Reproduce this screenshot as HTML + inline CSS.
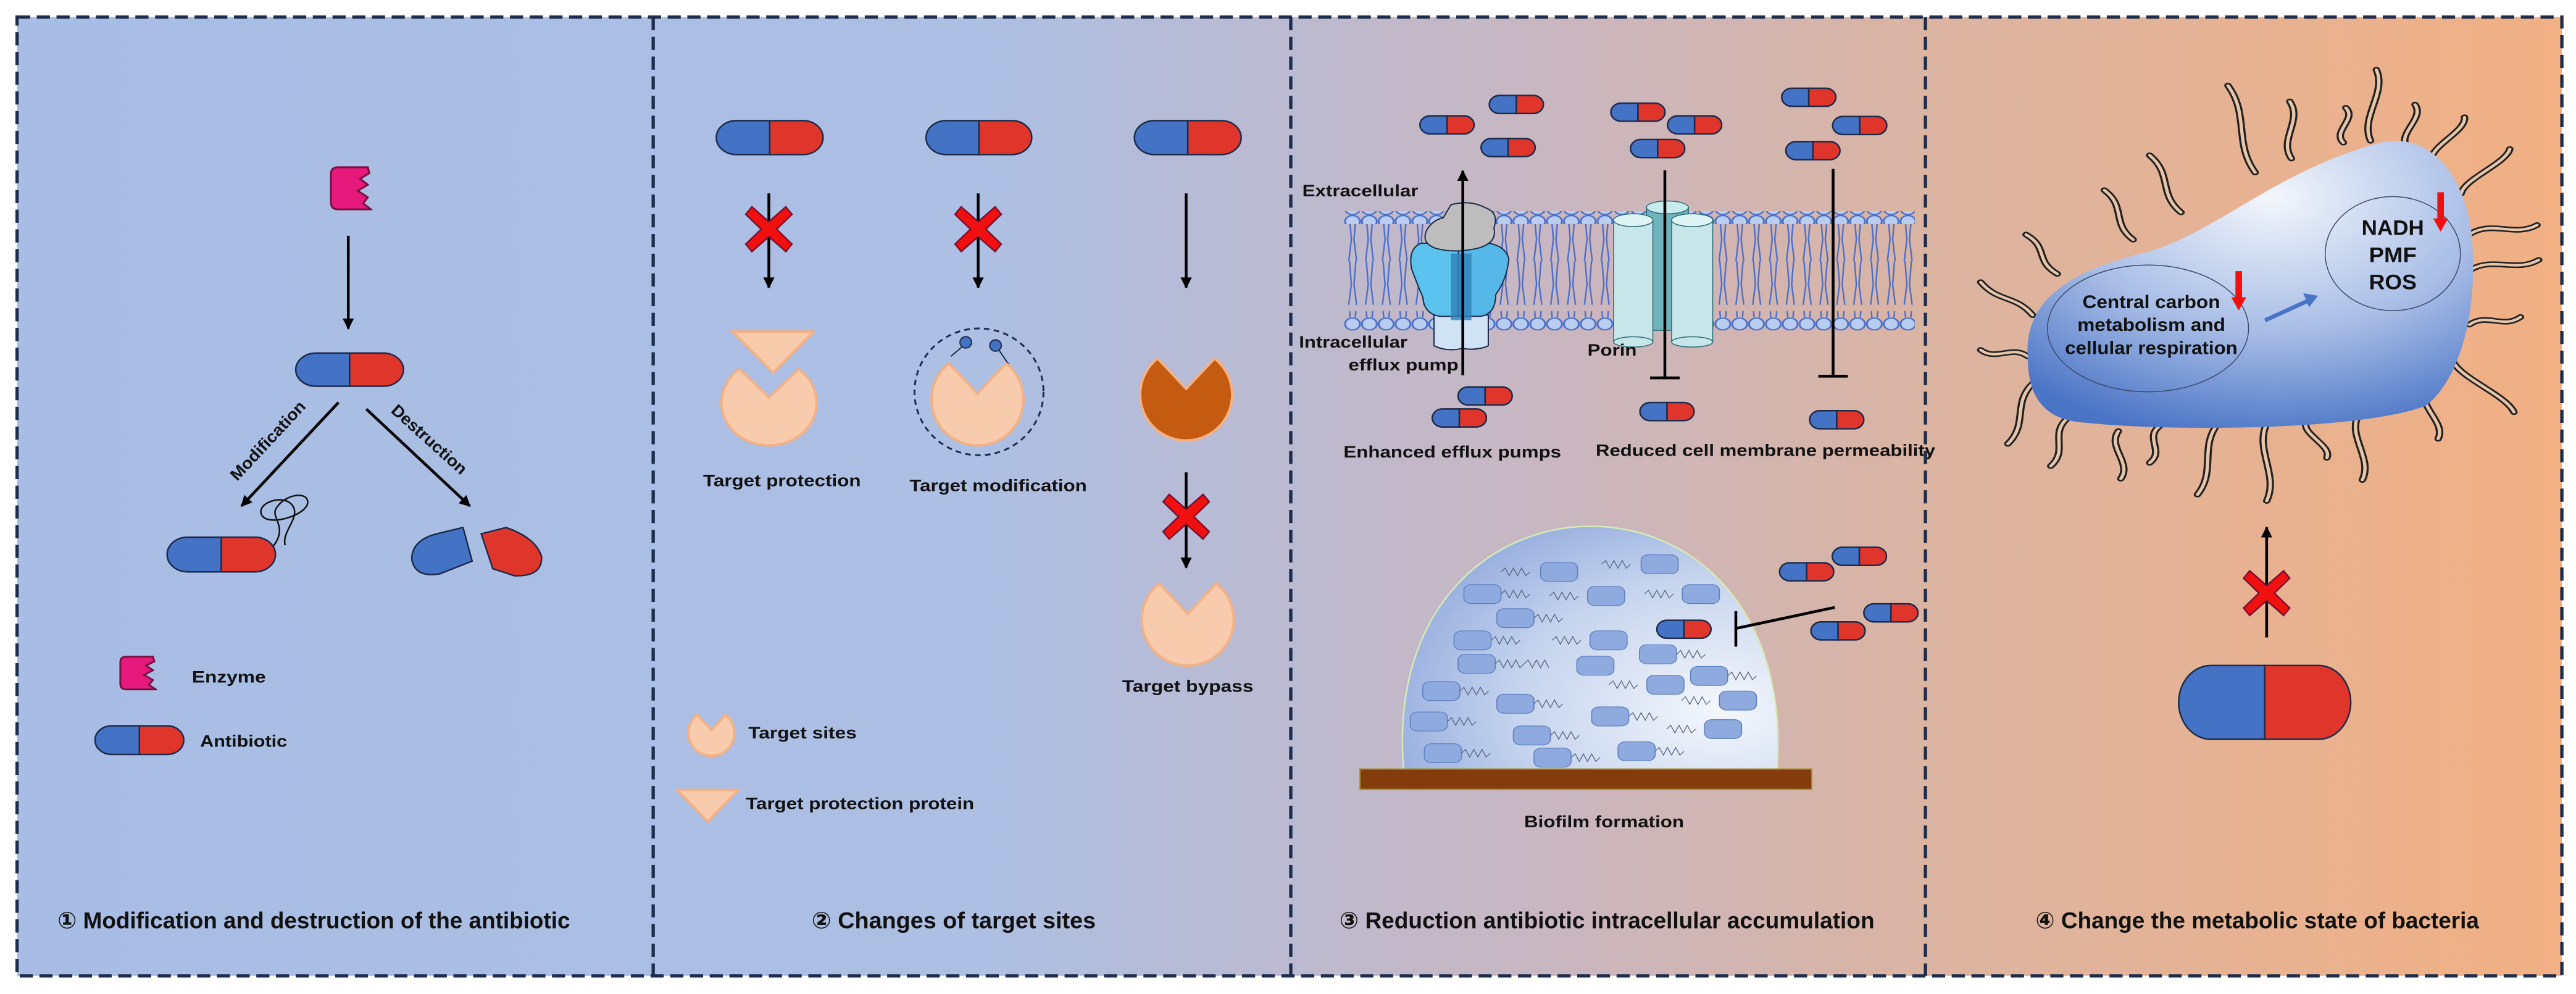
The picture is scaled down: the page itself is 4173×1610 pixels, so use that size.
<!DOCTYPE html>
<html><head><meta charset="utf-8"><style>
html,body{margin:0;padding:0;background:#fff}
svg{display:block}
text{font-family:"Liberation Sans","DejaVu Sans","Noto Sans CJK SC",sans-serif;font-weight:bold;fill:#111}
</style></head><body>
<svg width="4173" height="1610" viewBox="0 0 1568 605" preserveAspectRatio="none" xmlns="http://www.w3.org/2000/svg">
<defs>
<linearGradient id="bg" x1="0" x2="1" y1="0" y2="0">
<stop offset="0" stop-color="#a8bde5"/><stop offset="0.38" stop-color="#adbfe3"/><stop offset="0.5" stop-color="#bcbad0"/><stop offset="0.62" stop-color="#cbb6bd"/><stop offset="0.75" stop-color="#dbb4a2"/><stop offset="1" stop-color="#f2b083"/>
</linearGradient>
<radialGradient id="cell" cx="0.55" cy="0.2" r="0.85"><stop offset="0" stop-color="#f3f6fc"/><stop offset="0.55" stop-color="#a8bde6"/><stop offset="1" stop-color="#4a74c6"/></radialGradient>
<radialGradient id="dome" cx="0.85" cy="0.75" r="0.9"><stop offset="0" stop-color="#f4f7fc"/><stop offset="0.6" stop-color="#c6d4ee"/><stop offset="1" stop-color="#97afdf"/></radialGradient>
<symbol id="pill" viewBox="0 0 66 24" preserveAspectRatio="none">
<path d="M33,1 H13 A12,11 0 0 0 13,23 H33 Z" fill="#4472c4" stroke="#1c2b4a" stroke-width="2.5" vector-effect="non-scaling-stroke"/>
<path d="M33,1 H53 A12,11 0 0 1 53,23 H33 Z" fill="#e0352b" stroke="#1c2b4a" stroke-width="2.5" vector-effect="non-scaling-stroke"/>
</symbol>
<symbol id="pac" viewBox="-1.1 -1.1 2.2 2.2" preserveAspectRatio="none">
<path d="M0.62,-0.78 A1,1 0 1 1 -0.62,-0.78 L0,-0.12 Z" fill="#f8cbad" stroke="#f4b183" stroke-width="4" vector-effect="non-scaling-stroke"/>
</symbol>
<symbol id="pacb" viewBox="-1.1 -1.1 2.2 2.2" preserveAspectRatio="none">
<path d="M0.62,-0.78 A1,1 0 1 1 -0.62,-0.78 L0,-0.12 Z" fill="#c55a11" stroke="#f4b183" stroke-width="4" vector-effect="non-scaling-stroke"/>
</symbol>
<symbol id="enz" viewBox="395 256 57 83" preserveAspectRatio="none">
<path d="M407,262 H446 L448,272 L436,281 L446,291 L433,301 L446,312 L440,322 L450,332 H407 Q398,332 398,320 V274 Q398,262 407,262 Z" fill="#e6197d" stroke="#7a1040" stroke-width="3" vector-effect="non-scaling-stroke"/>
</symbol>
<symbol id="xx" viewBox="-16 -16 32 32" preserveAspectRatio="none">
<polygon points="-11,-15 0,-5 11,-15 15,-10 5,0 15,10 11,15 0,5 -11,15 -15,10 -5,0 -15,-10" fill="#f01010" stroke="#7a1030" stroke-width="2.5" vector-effect="non-scaling-stroke"/>
</symbol>
<marker id="ah" viewBox="0 0 10 10" refX="9" refY="5" markerWidth="5" markerHeight="4" orient="auto-start-reverse" markerUnits="strokeWidth"><path d="M0,0 L10,5 L0,10 Z" fill="#000"/></marker>
<pattern id="heads" patternUnits="userSpaceOnUse" width="45" height="50"><ellipse cx="22" cy="25" rx="20" ry="23" fill="#b9cdf0" stroke="#4a6fc9" stroke-width="5"/></pattern>
<pattern id="tails" patternUnits="userSpaceOnUse" width="45" height="365"><path d="M14,0 L19,90 L12,170 M31,0 L26,90 L33,170 M14,195 L19,280 L12,365 M31,195 L26,280 L33,365" fill="none" stroke="#4a6fc9" stroke-width="4"/></pattern>
</defs>

<rect x="0" y="0" width="1568" height="605" fill="#fff"/>
<rect x="10.4" y="10.4" width="1549" height="583.6" fill="url(#bg)"/>

<g transform="scale(0.5033,0.3859)">
<path d="M330,862 C350,830 325,815 335,800 C345,780 370,775 372,790 C375,810 330,830 318,815 C305,795 345,775 355,800 C362,818 340,840 345,860" fill="none" stroke="#111" stroke-width="2.5" vector-effect="non-scaling-stroke"/>
<path d="M560,832 L571,885 L532,905 Q502,912 498,882 Q498,852 528,842 Z" fill="#4472c4" stroke="#1c2b4a" stroke-width="2.5" vector-effect="non-scaling-stroke"/>
<path d="M582,842 L612,832 Q648,848 655,878 Q656,910 622,908 L596,897 Z" fill="#e0352b" stroke="#1c2b4a" stroke-width="2.5" vector-effect="non-scaling-stroke"/>
<ellipse cx="1184" cy="618" rx="78" ry="100" fill="none" stroke="#1f2d4d" stroke-width="3" stroke-dasharray="9 7" vector-effect="non-scaling-stroke"/>
<line x1="1150" y1="562" x2="1168" y2="542" stroke="#1c2b4a" stroke-width="2" vector-effect="non-scaling-stroke"/>
<line x1="1220" y1="575" x2="1206" y2="548" stroke="#1c2b4a" stroke-width="2" vector-effect="non-scaling-stroke"/>
<ellipse cx="1168" cy="540" rx="7" ry="9" fill="#4472c4" stroke="#1c2b4a" stroke-width="2" vector-effect="non-scaling-stroke"/>
<ellipse cx="1204" cy="545" rx="7" ry="9" fill="#4472c4" stroke="#1c2b4a" stroke-width="2" vector-effect="non-scaling-stroke"/>
<polygon points="886,523 984,523 935,588" fill="#f8cbad" stroke="#f4b183" stroke-width="4" vector-effect="non-scaling-stroke"/>
<polygon points="819,1246 893,1246 856,1296" fill="#f8cbad" stroke="#f4b183" stroke-width="4" vector-effect="non-scaling-stroke"/>
</g>

<use href="#enz" x="200" y="99.6" width="26.7" height="30.4"/>
<use href="#enz" x="72" y="398" width="23.6" height="23.6"/>
<g stroke="#000" stroke-width="1.7" fill="none">
<line x1="212" y1="143.5" x2="212" y2="200" marker-end="url(#ah)"/>
<line x1="206" y1="245" x2="147" y2="308" marker-end="url(#ah)"/>
<line x1="223" y1="249" x2="286" y2="308" marker-end="url(#ah)"/>
<line x1="468" y1="117.7" x2="468" y2="175" marker-end="url(#ah)"/>
<line x1="595.4" y1="117.7" x2="595.4" y2="175" marker-end="url(#ah)"/>
<line x1="722" y1="117.7" x2="722" y2="175" marker-end="url(#ah)"/>
<line x1="722" y1="287.5" x2="722" y2="345.5" marker-end="url(#ah)"/>
</g>
<use href="#pill" x="179" y="214" width="67.6" height="22"/>
<use href="#pill" x="100.7" y="326" width="68" height="23"/>
<use href="#pill" x="57" y="441" width="55.7" height="19"/>
<text transform="translate(165.5,270.5) rotate(-47)" font-size="10" text-anchor="middle" textLength="62" lengthAdjust="spacingAndGlyphs">Modification</text>
<text transform="translate(259,270) rotate(42)" font-size="10" text-anchor="middle" textLength="58" lengthAdjust="spacingAndGlyphs">Destruction</text>
<text x="116.8" y="415.5" font-size="10" textLength="45" lengthAdjust="spacingAndGlyphs">Enzyme</text>
<text x="121.8" y="454.5" font-size="10" textLength="53" lengthAdjust="spacingAndGlyphs">Antibiotic</text>
<text x="35" y="565" font-size="14" textLength="312" lengthAdjust="spacingAndGlyphs">① Modification and destruction of the antibiotic</text>

<use href="#pill" x="435" y="72.5" width="67" height="22.5"/>
<use href="#pill" x="562.7" y="72.5" width="66.3" height="22.5"/>
<use href="#pill" x="689.5" y="72.5" width="67" height="22.5"/>
<use href="#xx" x="453" y="125" width="30" height="29"/>
<use href="#xx" x="580.4" y="125" width="30" height="29"/>
<use href="#xx" x="707" y="300" width="30" height="29"/>
<use href="#pac" x="436.2" y="216.4" width="63.8" height="57.2"/>
<use href="#pac" x="564.2" y="212.2" width="61.6" height="61.6"/>
<use href="#pacb" x="691.2" y="209.2" width="61.6" height="61.6"/>
<use href="#pac" x="692.2" y="346.2" width="61.6" height="61.6"/>
<use href="#pac" x="417.6" y="430.6" width="30.8" height="30.8"/>
<text x="428" y="296" font-size="10" textLength="96" lengthAdjust="spacingAndGlyphs">Target protection</text>
<text x="553.6" y="299" font-size="10" textLength="108" lengthAdjust="spacingAndGlyphs">Target modification</text>
<text x="683" y="421" font-size="10" textLength="80" lengthAdjust="spacingAndGlyphs">Target bypass</text>
<text x="455.5" y="449.5" font-size="10" textLength="66" lengthAdjust="spacingAndGlyphs">Target sites</text>
<text x="454" y="492.5" font-size="10" textLength="139" lengthAdjust="spacingAndGlyphs">Target protection protein</text>
<text x="494" y="565" font-size="14" textLength="173" lengthAdjust="spacingAndGlyphs">② Changes of target sites</text>

<g transform="translate(808,45.1) scale(0.2277,0.156)">
<rect x="45" y="585" width="1525" height="365" fill="url(#tails)"/>
<rect x="45" y="535" width="1525" height="50" fill="url(#heads)"/>
<rect x="45" y="950" width="1525" height="50" fill="url(#heads)"/>
<path d="M285,940 H430 V1060 Q400,1080 360,1070 Q320,1085 285,1060 Z" fill="#cfe3f5" stroke="#1c2b4a" stroke-width="2" vector-effect="non-scaling-stroke"/>
<path d="M250,660 Q215,680 225,760 Q240,820 255,870 Q258,935 300,945 L350,945 L350,660 Z" fill="#5cc3ee" stroke="#1c2b4a" stroke-width="2" vector-effect="non-scaling-stroke"/>
<path d="M360,660 Q470,640 485,720 Q480,800 450,860 Q450,935 410,945 L350,945 L350,660 Z" fill="#56b8e8" stroke="#1c2b4a" stroke-width="2" vector-effect="non-scaling-stroke"/>
<path d="M330,700 H385 V960 H330 Z" fill="#2e7fb8" opacity="0.8"/>
<path d="M330,510 Q380,490 420,520 Q460,540 445,600 Q455,660 400,680 Q340,700 290,680 Q250,660 265,610 Q280,570 310,560 Z" fill="#bdbdbd" stroke="#1c2b4a" stroke-width="2" vector-effect="non-scaling-stroke"/>
<rect x="853" y="520" width="112" height="480" fill="#6fb3bd" stroke="#2d6b75" stroke-width="1.5" vector-effect="non-scaling-stroke"/>
<ellipse cx="909" cy="520" rx="56" ry="25" fill="#c8ecee" stroke="#2d6b75" stroke-width="1.5" vector-effect="non-scaling-stroke"/>
<rect x="765" y="570" width="105" height="475" fill="#c6e6ea" stroke="#2d6b75" stroke-width="1.5" vector-effect="non-scaling-stroke"/>
<ellipse cx="817.5" cy="1045" rx="52.5" ry="20" fill="#c6e6ea" stroke="#2d6b75" stroke-width="1.5" vector-effect="non-scaling-stroke"/>
<ellipse cx="817.5" cy="570" rx="52.5" ry="25" fill="#def3f4" stroke="#2d6b75" stroke-width="1.5" vector-effect="non-scaling-stroke"/>
<rect x="920" y="570" width="110" height="475" fill="#c6e6ea" stroke="#2d6b75" stroke-width="1.5" vector-effect="non-scaling-stroke"/>
<ellipse cx="975" cy="1045" rx="55" ry="20" fill="#c6e6ea" stroke="#2d6b75" stroke-width="1.5" vector-effect="non-scaling-stroke"/>
<ellipse cx="975" cy="570" rx="55" ry="25" fill="#def3f4" stroke="#2d6b75" stroke-width="1.5" vector-effect="non-scaling-stroke"/>
</g>
<g stroke="#000" stroke-width="1.7" fill="none">
<line x1="890.4" y1="228.4" x2="890.4" y2="104" marker-end="url(#ah)"/>
<line x1="1013.4" y1="103.6" x2="1013.4" y2="230"/>
<line x1="1004.4" y1="230" x2="1022.4" y2="230"/>
<line x1="1115.8" y1="102.8" x2="1115.8" y2="229"/>
<line x1="1106.8" y1="229" x2="1124.8" y2="229"/>
</g>
<use href="#pill" x="863.8" y="70" width="34" height="12"/>
<use href="#pill" x="906" y="57.6" width="34" height="12"/>
<use href="#pill" x="901" y="83.8" width="34" height="12"/>
<use href="#pill" x="980" y="62.3" width="34" height="12"/>
<use href="#pill" x="1014.5" y="70" width="34" height="12"/>
<use href="#pill" x="992" y="84.4" width="34" height="12"/>
<use href="#pill" x="1084" y="53.2" width="34" height="12"/>
<use href="#pill" x="1115" y="70.4" width="34" height="12"/>
<use href="#pill" x="1086.5" y="85.7" width="34" height="12"/>
<use href="#pill" x="887" y="235" width="34" height="12"/>
<use href="#pill" x="871.3" y="248.4" width="34" height="12"/>
<use href="#pill" x="997.7" y="244.5" width="34" height="12"/>
<use href="#pill" x="1101" y="249.5" width="34" height="12"/>
<text x="792.7" y="119.5" font-size="10" textLength="70.6" lengthAdjust="spacingAndGlyphs">Extracellular</text>
<text x="790.7" y="211.5" font-size="10" textLength="66" lengthAdjust="spacingAndGlyphs">Intracellular</text>
<text x="820.8" y="225.5" font-size="10" textLength="67" lengthAdjust="spacingAndGlyphs">efflux pump</text>
<text x="966.3" y="216.5" font-size="10" textLength="30" lengthAdjust="spacingAndGlyphs">Porin</text>
<text x="817.8" y="278.5" font-size="10" textLength="132.5" lengthAdjust="spacingAndGlyphs">Enhanced efflux pumps</text>
<text x="971.3" y="277.5" font-size="10" textLength="206.7" lengthAdjust="spacingAndGlyphs">Reduced cell membrane permeability</text>

<g transform="translate(781.7,0) scale(0.5017,0.3859)">
<path d="M145,1215 C128,960 250,830 372,830 C495,830 612,960 598,1215 Z" fill="url(#dome)" stroke="#d6eab4" stroke-width="2.5" vector-effect="non-scaling-stroke"/>
<g fill="#8eaade" stroke="#5f80c0" stroke-width="1.2" vector-effect="non-scaling-stroke">
<rect x="311" y="887" width="45" height="30" rx="9"/><rect x="433" y="875" width="45" height="30" rx="9"/>
<rect x="218" y="922" width="45" height="30" rx="9"/><rect x="368" y="925" width="45" height="30" rx="9"/>
<rect x="483" y="922" width="45" height="30" rx="9"/><rect x="258" y="960" width="45" height="30" rx="9"/>
<rect x="206" y="995" width="45" height="30" rx="9"/><rect x="371" y="995" width="45" height="30" rx="9"/>
<rect x="431" y="1017" width="45" height="30" rx="9"/><rect x="211" y="1032" width="45" height="30" rx="9"/>
<rect x="355" y="1035" width="45" height="30" rx="9"/><rect x="493" y="1051" width="45" height="30" rx="9"/>
<rect x="168" y="1075" width="45" height="30" rx="9"/><rect x="440" y="1065" width="45" height="30" rx="9"/>
<rect x="528" y="1090" width="45" height="30" rx="9"/><rect x="258" y="1095" width="45" height="30" rx="9"/>
<rect x="153" y="1123" width="45" height="30" rx="9"/><rect x="373" y="1115" width="45" height="30" rx="9"/>
<rect x="510" y="1135" width="45" height="30" rx="9"/><rect x="278" y="1145" width="45" height="30" rx="9"/>
<rect x="170" y="1173" width="45" height="30" rx="9"/><rect x="303" y="1180" width="45" height="30" rx="9"/>
<rect x="405" y="1170" width="45" height="30" rx="9"/>
</g>
<g fill="none" stroke="#55607a" stroke-width="1" vector-effect="non-scaling-stroke">
<path d="M263,902 l5,-6 l5,12 l5,-12 l5,12 l5,-12 l5,12 l5,-6"/>
<path d="M385,890 l5,-6 l5,12 l5,-12 l5,12 l5,-12 l5,12 l5,-6"/>
<path d="M263,937 l5,-6 l5,12 l5,-12 l5,12 l5,-12 l5,12 l5,-6"/>
<path d="M322,940 l5,-6 l5,12 l5,-12 l5,12 l5,-12 l5,12 l5,-6"/>
<path d="M437,937 l5,-6 l5,12 l5,-12 l5,12 l5,-12 l5,12 l5,-6"/>
<path d="M303,975 l5,-6 l5,12 l5,-12 l5,12 l5,-12 l5,12 l5,-6"/>
<path d="M251,1010 l5,-6 l5,12 l5,-12 l5,12 l5,-12 l5,12 l5,-6"/>
<path d="M325,1010 l5,-6 l5,12 l5,-12 l5,12 l5,-12 l5,12 l5,-6"/>
<path d="M476,1032 l5,-6 l5,12 l5,-12 l5,12 l5,-12 l5,12 l5,-6"/>
<path d="M256,1047 l5,-6 l5,12 l5,-12 l5,12 l5,-12 l5,12 l5,-6 l5,-6 l5,12 l5,-12 l5,12 l5,-12 l5,12"/>
<path d="M538,1066 l5,-6 l5,12 l5,-12 l5,12 l5,-12 l5,12 l5,-6"/>
<path d="M213,1090 l5,-6 l5,12 l5,-12 l5,12 l5,-12 l5,12 l5,-6"/>
<path d="M394,1080 l5,-6 l5,12 l5,-12 l5,12 l5,-12 l5,12 l5,-6"/>
<path d="M482,1105 l5,-6 l5,12 l5,-12 l5,12 l5,-12 l5,12 l5,-6"/>
<path d="M303,1110 l5,-6 l5,12 l5,-12 l5,12 l5,-12 l5,12 l5,-6"/>
<path d="M198,1138 l5,-6 l5,12 l5,-12 l5,12 l5,-12 l5,12 l5,-6"/>
<path d="M418,1130 l5,-6 l5,12 l5,-12 l5,12 l5,-12 l5,12 l5,-6"/>
<path d="M464,1150 l5,-6 l5,12 l5,-12 l5,12 l5,-12 l5,12 l5,-6"/>
<path d="M323,1160 l5,-6 l5,12 l5,-12 l5,12 l5,-12 l5,12 l5,-6"/>
<path d="M215,1188 l5,-6 l5,12 l5,-12 l5,12 l5,-12 l5,12 l5,-6"/>
<path d="M348,1195 l5,-6 l5,12 l5,-12 l5,12 l5,-12 l5,12 l5,-6"/>
<path d="M450,1185 l5,-6 l5,12 l5,-12 l5,12 l5,-12 l5,12 l5,-6"/>
</g>
<rect x="92" y="1213" width="548" height="32" fill="#843c0c" stroke="#a08a2a" stroke-width="2" vector-effect="non-scaling-stroke"/>
</g>
<g stroke="#000" stroke-width="1.7">
<line x1="1116.8" y1="369.7" x2="1056.6" y2="382.5"/>
<line x1="1056.6" y1="372" x2="1056.6" y2="393.6"/>
</g>
<use href="#pill" x="1082.7" y="342" width="34" height="12"/>
<use href="#pill" x="1114.8" y="332.6" width="34" height="12"/>
<use href="#pill" x="1134" y="367" width="34" height="12"/>
<use href="#pill" x="1101.8" y="378" width="34" height="12"/>
<use href="#pill" x="1008" y="377" width="34" height="12"/>
<text x="976.4" y="503.5" font-size="10" text-anchor="middle" textLength="97.3" lengthAdjust="spacingAndGlyphs">Biofilm formation</text>
<text x="815.3" y="565" font-size="14" textLength="325.7" lengthAdjust="spacingAndGlyphs">③ Reduction antibiotic intracellular accumulation</text>

<g transform="translate(781.7,0) scale(0.5017,0.3859)">
<g fill="none" stroke-linecap="round">
<g stroke="#222" stroke-width="9" vector-effect="non-scaling-stroke">
<path d="M1145,135 C1171,181 1152,226 1178,272"/><path d="M1220,160 C1236,190 1206,220 1222,250"/>
<path d="M1288,170 C1302,188 1271,207 1285,225"/><path d="M1325,110 C1338,147 1305,185 1318,222"/>
<path d="M1372,165 C1384,187 1350,210 1362,232"/><path d="M1432,185 C1434,207 1391,230 1392,252"/>
<path d="M1487,235 C1482,258 1432,282 1428,305"/><path d="M1050,245 C1078,275 1060,305 1088,335"/>
<path d="M995,300 C1022,326 1003,352 1030,378"/><path d="M900,370 C928,391 910,411 938,432"/>
<path d="M845,445 C866,477 887,465 908,497"/><path d="M845,552 C864,570 883,544 902,562"/>
<path d="M1520,355 C1493,374 1467,348 1440,368"/><path d="M1522,410 C1495,430 1467,405 1440,425"/>
<path d="M1500,500 C1479,519 1459,493 1438,512"/><path d="M1492,650 C1482,623 1428,597 1418,570"/>
<path d="M1400,692 C1410,666 1375,641 1385,615"/><path d="M1308,757 C1321,723 1290,689 1303,655"/>
<path d="M1265,722 C1272,703 1233,684 1240,665"/><path d="M1192,790 C1207,749 1177,709 1192,668"/>
<path d="M1108,780 C1131,743 1110,705 1133,668"/><path d="M1050,730 C1069,711 1043,691 1062,672"/>
<path d="M1015,755 C1029,730 998,705 1012,680"/><path d="M930,735 C952,710 928,685 950,660"/>
<path d="M878,700 C903,668 883,637 908,605"/>
</g>
<g stroke="#e8c6aa" stroke-width="4" vector-effect="non-scaling-stroke">
<path d="M1145,135 C1171,181 1152,226 1178,272"/><path d="M1220,160 C1236,190 1206,220 1222,250"/>
<path d="M1288,170 C1302,188 1271,207 1285,225"/><path d="M1325,110 C1338,147 1305,185 1318,222"/>
<path d="M1372,165 C1384,187 1350,210 1362,232"/><path d="M1432,185 C1434,207 1391,230 1392,252"/>
<path d="M1487,235 C1482,258 1432,282 1428,305"/><path d="M1050,245 C1078,275 1060,305 1088,335"/>
<path d="M995,300 C1022,326 1003,352 1030,378"/><path d="M900,370 C928,391 910,411 938,432"/>
<path d="M845,445 C866,477 887,465 908,497"/><path d="M845,552 C864,570 883,544 902,562"/>
<path d="M1520,355 C1493,374 1467,348 1440,368"/><path d="M1522,410 C1495,430 1467,405 1440,425"/>
<path d="M1500,500 C1479,519 1459,493 1438,512"/><path d="M1492,650 C1482,623 1428,597 1418,570"/>
<path d="M1400,692 C1410,666 1375,641 1385,615"/><path d="M1308,757 C1321,723 1290,689 1303,655"/>
<path d="M1265,722 C1272,703 1233,684 1240,665"/><path d="M1192,790 C1207,749 1177,709 1192,668"/>
<path d="M1108,780 C1131,743 1110,705 1133,668"/><path d="M1050,730 C1069,711 1043,691 1062,672"/>
<path d="M1015,755 C1029,730 998,705 1012,680"/><path d="M930,735 C952,710 928,685 950,660"/>
<path d="M878,700 C903,668 883,637 908,605"/>
</g>
</g>
<path d="M902,560 C898,470 960,425 1040,400 C1130,370 1200,270 1330,225 C1400,205 1442,300 1442,400 C1446,500 1425,600 1385,640 C1300,682 1050,680 960,665 C910,655 902,605 902,560 Z" fill="url(#cell)"/>
<ellipse cx="1048" cy="518" rx="122" ry="100" fill="none" stroke="#3a4a6a" stroke-width="1.5" vector-effect="non-scaling-stroke"/>
<ellipse cx="1345" cy="400" rx="82" ry="90" fill="none" stroke="#3a4a6a" stroke-width="1.5" vector-effect="non-scaling-stroke"/>
</g>
<line x1="1362.7" y1="165" x2="1362.7" y2="182" stroke="#f01010" stroke-width="4"/>
<polygon points="1358.2,181 1367.2,181 1362.7,189" fill="#f01010"/>
<line x1="1485.6" y1="117" x2="1485.6" y2="134" stroke="#f01010" stroke-width="4"/>
<polygon points="1481.1,133 1490.1,133 1485.6,141" fill="#f01010"/>
<line x1="1378.7" y1="195" x2="1405" y2="183" stroke="#4a74c6" stroke-width="2.5"/>
<polygon points="1402,178.5 1411,180 1405.5,187" fill="#4a74c6"/>
<text x="1309.5" y="187.5" font-size="11" text-anchor="middle" textLength="83.8" lengthAdjust="spacingAndGlyphs">Central carbon</text>
<text x="1309.5" y="201.5" font-size="11" text-anchor="middle" textLength="90" lengthAdjust="spacingAndGlyphs">metabolism and</text>
<text x="1309.5" y="215.5" font-size="11" text-anchor="middle" textLength="105" lengthAdjust="spacingAndGlyphs">cellular respiration</text>
<text x="1456.5" y="143" font-size="13" text-anchor="middle" textLength="38" lengthAdjust="spacingAndGlyphs">NADH</text>
<text x="1456.5" y="159.5" font-size="13" text-anchor="middle" textLength="29" lengthAdjust="spacingAndGlyphs">PMF</text>
<text x="1456.5" y="176" font-size="13" text-anchor="middle" textLength="29" lengthAdjust="spacingAndGlyphs">ROS</text>
<line x1="1379.7" y1="388" x2="1379.7" y2="321" stroke="#000" stroke-width="1.7" marker-end="url(#ah)"/>
<use href="#xx" x="1364.7" y="346.5" width="30" height="29"/>
<use href="#pill" x="1324.5" y="403" width="108" height="49"/>
<text x="1239" y="565" font-size="14" textLength="270" lengthAdjust="spacingAndGlyphs">④ Change the metabolic state of bacteria</text>

<g fill="none" stroke="#1f2d4d" stroke-width="2" stroke-dasharray="8 4">
<rect x="10.4" y="10.4" width="1549" height="583.6"/>
<line x1="397.6" y1="10.4" x2="397.6" y2="594"/>
<line x1="785.7" y1="10.4" x2="785.7" y2="594"/>
<line x1="1172" y1="10.4" x2="1172" y2="594"/>
</g>
</svg>
</body></html>
